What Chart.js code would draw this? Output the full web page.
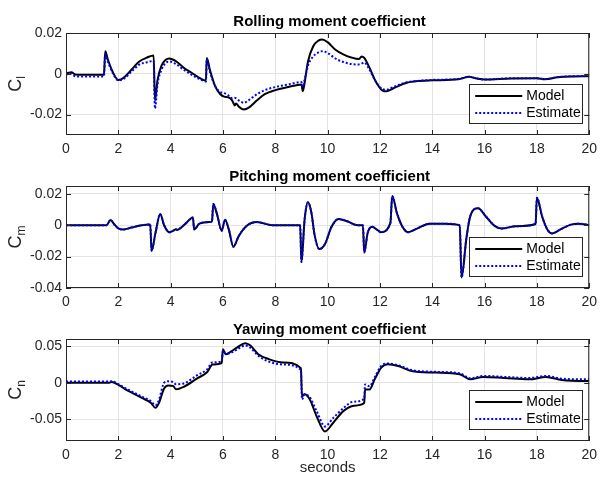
<!DOCTYPE html>
<html>
<head>
<meta charset="utf-8">
<script src="https://cdn.jsdelivr.net/npm/chart.js@4.4.1/dist/chart.umd.min.js"></script>
<style>
  html, body { margin: 0; padding: 0; background: #fff; }
  #wrap { position: relative; width: 603px; height: 479px; overflow: hidden; }
  .sub { position: absolute; left: 0; }
</style>
</head>
<body>
<div id="wrap">
  <canvas id="chartCl" class="sub" width="603" height="160" style="top:0px"></canvas>
  <canvas id="chartCm" class="sub" width="603" height="153" style="top:160px"></canvas>
  <canvas id="chartCn" class="sub" width="603" height="166" style="top:313px"></canvas>
</div>
<script>
// shared x axis (seconds)
const X_TICKS = [0, 2, 4, 6, 8, 10, 12, 14, 16, 18, 20];
const SERIES_NAMES = ["Model", "Estimate"];

// Rolling moment coefficient
const CL_TICKS = [-0.02, 0, 0.02];
const CL_T = [0, 0.1, 0.2, 0.35, 0.6, 1.0, 1.45, 1.5, 1.6, 1.8, 2.0, 2.2, 2.5, 2.8, 3.1, 3.35, 3.4, 3.5, 3.65, 3.8, 3.95, 4.2, 4.5, 4.8, 5.1, 5.35, 5.38, 5.5, 5.7, 5.9, 6.05, 6.2, 6.35, 6.45, 6.5, 6.6, 6.8, 7.0, 7.3, 7.6, 8.0, 8.5, 9.0, 9.05, 9.1, 9.25, 9.45, 9.65, 9.8, 10.0, 10.3, 10.6, 10.9, 11.2, 11.3, 11.4, 11.6, 11.85, 12.1, 12.25, 12.5, 13.0, 13.5, 14.0, 15.0, 15.4, 15.7, 16.0, 17.0, 18.0, 18.3, 18.8, 19.3, 20];
const CL_MODEL = [0, 0.0005, 0.0008, -0.0003, -0.0005, -0.0005, -0.0005, 0.011, 0.007, 0.0005, -0.003, -0.002, 0.002, 0.006, 0.008, 0.009, -0.013, -0.003, 0.004, 0.0068, 0.0075, 0.0062, 0.003, 0.0005, -0.002, -0.0033, 0.0078, 0.002, -0.006, -0.010, -0.0112, -0.0115, -0.013, -0.0155, -0.0145, -0.016, -0.0175, -0.0165, -0.013, -0.010, -0.008, -0.0065, -0.0052, -0.0085, -0.006, 0.006, 0.0135, 0.0163, 0.0168, 0.0155, 0.0118, 0.0095, 0.008, 0.0072, 0.0085, 0.0078, 0.003, -0.004, -0.0082, -0.0086, -0.0072, -0.0045, -0.0035, -0.0032, -0.0027, -0.0015, -0.0023, -0.0028, -0.0023, -0.0022, -0.0027, -0.0017, -0.0013, -0.0012];
const CL_EST = [-0.0005, 0, 0, -0.0012, -0.0013, -0.0013, -0.0013, 0.0095, 0.006, 0, -0.0032, -0.0025, 0.001, 0.0045, 0.0057, 0.0063, -0.017, -0.005, 0.002, 0.0052, 0.006, 0.0048, 0.002, -0.0005, -0.0025, -0.0038, 0.0072, 0.001, -0.006, -0.009, -0.0095, -0.0105, -0.012, -0.0118, -0.012, -0.013, -0.0142, -0.0128, -0.010, -0.008, -0.0065, -0.0052, -0.004, -0.0065, -0.004, 0.004, 0.0085, 0.0105, 0.0111, 0.0102, 0.0075, 0.0058, 0.0048, 0.0046, 0.005, 0.0055, 0.002, -0.004, -0.0075, -0.0078, -0.0066, -0.0042, -0.0034, -0.003, -0.0025, -0.0015, -0.0023, -0.0028, -0.0022, -0.0022, -0.0026, -0.0016, -0.0012, -0.0011];

// Pitching moment coefficient
const CM_TICKS = [-0.04, -0.02, 0, 0.02];
const CM_T = [0, 1.55, 1.7, 1.85, 2.0, 2.2, 2.5, 2.9, 3.22, 3.27, 3.42, 3.6, 3.75, 3.95, 4.1, 4.2, 4.25, 4.4, 4.6, 4.85, 4.9, 5.1, 5.5, 5.58, 5.63, 5.78, 5.95, 6.08, 6.22, 6.4, 6.6, 6.9, 7.3, 7.9, 8.95, 9.0, 9.12, 9.25, 9.38, 9.5, 9.68, 9.9, 10.15, 10.42, 10.75, 11.15, 11.35, 11.4, 11.53, 11.7, 11.9, 12.03, 12.4, 12.47, 12.65, 12.85, 13.07, 13.4, 13.9, 14.5, 15.05, 15.12, 15.3, 15.45, 15.75, 16.05, 16.4, 16.65, 17.2, 17.95, 18.0, 18.2, 18.4, 18.58, 18.9, 19.3, 19.6, 20];
const CM_MODEL = [0, 0, 0.0033, 0.0005, -0.002, -0.0027, -0.0015, 0, 0.0005, -0.0163, -0.005, 0.0071, 0, -0.0045, -0.0035, -0.0025, -0.003, -0.0015, 0.0015, 0.005, -0.0027, 0.001, 0.002, 0.0025, 0.0135, 0.0065, -0.0035, 0.0035, -0.0025, -0.0137, -0.007, -0.0005, 0.002, 0, 0, -0.0235, 0.0035, 0.0146, 0.008, -0.006, -0.0152, -0.012, -0.001, 0.004, 0.0025, 0, 0, -0.0173, -0.005, -0.001, -0.003, -0.0044, 0.0015, 0.0187, 0.0077, -0.0006, -0.0044, -0.0023, 0.001, 0.001, 0, -0.0333, -0.009, 0.0056, 0.0108, 0.0056, -0.0006, -0.0021, -0.0006, 0.0008, 0.0175, 0.0056, -0.0027, -0.0052, -0.0027, 0.0004, 0.001, 0];
const CM_EST = [0, 0, 0.0033, 0.0005, -0.002, -0.0027, -0.0015, 0, 0.0005, -0.0163, -0.005, 0.0071, 0, -0.0045, -0.0035, -0.0025, -0.003, -0.0015, 0.0015, 0.005, -0.0027, 0.001, 0.002, 0.0025, 0.0135, 0.0065, -0.0035, 0.0035, -0.0025, -0.0137, -0.007, -0.0005, 0.002, 0, 0, -0.0235, 0.0035, 0.0146, 0.008, -0.006, -0.0152, -0.012, -0.001, 0.004, 0.0025, 0, 0, -0.0173, -0.005, -0.001, -0.003, -0.0044, 0.0015, 0.0187, 0.0077, -0.0006, -0.0044, -0.0023, 0.001, 0.001, 0, -0.0333, -0.009, 0.0056, 0.0108, 0.0056, -0.0006, -0.0021, -0.0006, 0.0008, 0.0175, 0.0056, -0.0027, -0.0052, -0.0027, 0.0004, 0.001, 0];

// Yawing moment coefficient
const CN_TICKS = [-0.05, 0, 0.05];
const CN_T = [0, 1.0, 1.65, 1.75, 2.0, 2.4, 2.9, 3.25, 3.42, 3.55, 3.75, 3.9, 4.1, 4.2, 4.5, 5.0, 5.4, 5.6, 5.95, 6.0, 6.1, 6.3, 6.55, 6.85, 7.05, 7.35, 7.75, 8.3, 8.98, 9.02, 9.12, 9.32, 9.58, 9.9, 10.2, 10.6, 11.0, 11.4, 11.43, 11.6, 11.8, 12.05, 12.3, 12.7, 13.2, 14.1, 15.05, 15.45, 15.95, 16.75, 17.7, 18.35, 18.95, 19.9, 20];
const CN_MODEL = [0, 0, 0, 0.001, -0.003, -0.0116, -0.0208, -0.0278, -0.0345, -0.028, -0.008, -0.0037, -0.0045, -0.009, -0.0056, 0.0056, 0.0148, 0.025, 0.027, 0.046, 0.039, 0.0426, 0.0486, 0.0542, 0.051, 0.039, 0.0324, 0.0278, 0.02, -0.0185, -0.016, -0.023, -0.046, -0.067, -0.0556, -0.039, -0.0315, -0.0278, -0.0093, -0.0093, 0.0046, 0.0208, 0.0255, 0.023, 0.0162, 0.0139, 0.0116, 0.0046, 0.0079, 0.0065, 0.0046, 0.0079, 0.0037, 0.0023, 0.0023];
const CN_EST = [0.0015, 0.0015, 0.0015, 0.002, -0.002, -0.010, -0.019, -0.0255, -0.031, -0.024, 0.0, 0.002, 0.001, -0.002, -0.001, 0.01, 0.0185, 0.028, 0.029, 0.044, 0.04, 0.041, 0.046, 0.051, 0.048, 0.037, 0.029, 0.025, 0.0175, -0.023, -0.016, -0.02, -0.039, -0.060, -0.049, -0.035, -0.026, -0.022, -0.0023, -0.005, 0.0075, 0.023, 0.0265, 0.024, 0.0175, 0.015, 0.013, 0.006, 0.0093, 0.008, 0.0065, 0.0093, 0.0055, 0.0046, 0.0046];

const FONT = "'Liberation Sans', Arial, Helvetica, sans-serif";
const AXIS_COLOR = "#262626";

// draws the Matlab style box, inward ticks, title, y label and legend
const framePlugin = {
  id: "frame",
  afterDatasetsDraw(chart, args, opts) {
    const ctx = chart.ctx;
    const a = chart.chartArea;
    ctx.save();

    // box round the axes
    ctx.strokeStyle = AXIS_COLOR;
    ctx.lineWidth = 1;
    ctx.strokeRect(a.left + 0.5, a.top + 0.5, a.right - a.left - 1, a.bottom - a.top - 1);

    // tick marks pointing inward on all four sides
    ctx.beginPath();
    chart.scales.x.ticks.forEach((t) => {
      const px = Math.round(chart.scales.x.getPixelForValue(t.value)) + 0.5;
      ctx.moveTo(px, a.bottom); ctx.lineTo(px, a.bottom - 5);
      ctx.moveTo(px, a.top); ctx.lineTo(px, a.top + 5);
    });
    chart.scales.y.ticks.forEach((t) => {
      const py = Math.round(chart.scales.y.getPixelForValue(t.value)) + 0.5;
      ctx.moveTo(a.left, py); ctx.lineTo(a.left + 5, py);
      ctx.moveTo(a.right, py); ctx.lineTo(a.right - 5, py);
    });
    ctx.stroke();

    // title
    ctx.fillStyle = "#000";
    ctx.font = "bold 15px " + FONT;
    ctx.textAlign = "center";
    ctx.textBaseline = "middle";
    ctx.fillText(opts.title, (a.left + a.right) / 2 + 2, a.top - opts.titleGap);

    // y label with subscript, rotated
    ctx.save();
    ctx.translate(21, (a.top + a.bottom) / 2);
    ctx.rotate(-Math.PI / 2);
    ctx.textAlign = "left";
    ctx.textBaseline = "alphabetic";
    ctx.fillStyle = AXIS_COLOR;
    ctx.font = "18px " + FONT;
    const wC = ctx.measureText("C").width;
    ctx.font = "12px " + FONT;
    const wS = ctx.measureText(opts.sub).width;
    const x0 = -(wC + wS) / 2;
    ctx.font = "18px " + FONT;
    ctx.fillText("C", x0, 0);
    ctx.font = "12px " + FONT;
    ctx.fillText(opts.sub, x0 + wC, 4);
    ctx.restore();

    // x label (only on the last plot)
    if (opts.xLabel) {
      ctx.font = "15px " + FONT;
      ctx.fillStyle = AXIS_COLOR;
      ctx.textAlign = "center";
      ctx.textBaseline = "middle";
      ctx.fillText(opts.xLabel, (a.left + a.right) / 2, a.bottom + 27);
    }

    // legend box at bottom right
    const w = 113, h = 39;
    const lx = a.right - 7 - w;
    const ly = a.bottom - 12 - h;
    ctx.fillStyle = "#fff";
    ctx.fillRect(lx, ly, w, h);
    ctx.strokeStyle = AXIS_COLOR;
    ctx.lineWidth = 1;
    ctx.strokeRect(Math.round(lx) + 0.5, Math.round(ly) + 0.5, w, h);
    ctx.font = "14px " + FONT;
    ctx.textAlign = "left";
    ctx.textBaseline = "middle";
    chart.data.datasets.forEach((ds, i) => {
      const ry = ly + 12 + i * 17;
      ctx.beginPath();
      ctx.strokeStyle = ds.borderColor;
      ctx.lineWidth = ds.borderWidth;
      ctx.setLineDash(ds.borderDash || []);
      ctx.moveTo(lx + 6, ry);
      ctx.lineTo(lx + 53, ry);
      ctx.stroke();
      ctx.setLineDash([]);
      ctx.fillStyle = "#000";
      ctx.fillText(ds.label, lx + 57, ry);
    });

    ctx.restore();
  },
};

function toPoints(ts, ys) {
  return ts.map((t, i) => ({ x: t, y: ys[i] }));
}

function fmtTick(v) {
  return v === 0 ? "0" : String(v);
}

// builds one of the three stacked plots
function makeSubplot(id, cfg) {
  const ctx = document.getElementById(id).getContext("2d");
  return new Chart(ctx, {
    type: "line",
    data: {
      datasets: [
        {
          label: SERIES_NAMES[0],
          data: toPoints(cfg.t, cfg.model),
          borderColor: "#000000",
          borderWidth: 2,
          pointRadius: 0,
          cubicInterpolationMode: "monotone",
          order: 1,
        },
        {
          label: SERIES_NAMES[1],
          data: toPoints(cfg.t, cfg.est),
          borderColor: "#0000ff",
          borderWidth: 2,
          borderDash: [2, 2],
          pointRadius: 0,
          cubicInterpolationMode: "monotone",
          order: 0,
        },
      ],
    },
    options: {
      responsive: false,
      animation: false,
      devicePixelRatio: 1,
      layout: { padding: { top: cfg.padTop, left: 0, right: 9, bottom: 0 } },
      plugins: {
        legend: { display: false },
        tooltip: { enabled: false },
        frame: { title: cfg.title, titleGap: cfg.titleGap, sub: cfg.sub, xLabel: cfg.xLabel },
      },
      scales: {
        x: {
          type: "linear",
          min: 0,
          max: 20,
          afterBuildTicks: (s) => { s.ticks = X_TICKS.map((v) => ({ value: v })); },
          afterFit: (s) => { s.height = cfg.xHeight; },
          grid: { color: "#e3e3e3", drawTicks: false },
          border: { display: false },
          ticks: { padding: 6, color: AXIS_COLOR, font: { family: FONT, size: 14 }, maxRotation: 0, autoSkip: false },
        },
        y: {
          min: cfg.min,
          max: cfg.max,
          afterBuildTicks: (s) => { s.ticks = cfg.ticks.map((v) => ({ value: v })); },
          afterFit: (s) => { s.width = 66; },
          grid: { color: "#e3e3e3", drawTicks: false },
          border: { display: false },
          ticks: { padding: 4, color: AXIS_COLOR, font: { family: FONT, size: 14 }, callback: fmtTick },
        },
      },
    },
    plugins: [framePlugin],
  });
}

makeSubplot("chartCl", {
  t: CL_T, model: CL_MODEL, est: CL_EST, ticks: CL_TICKS,
  min: -0.03, max: 0.02, title: "Rolling moment coefficient", sub: "l",
  padTop: 33, titleGap: 11, xHeight: 25,
});

makeSubplot("chartCm", {
  t: CM_T, model: CM_MODEL, est: CM_EST, ticks: CM_TICKS,
  min: -0.04, max: 0.025, title: "Pitching moment coefficient", sub: "m",
  padTop: 26, titleGap: 9, xHeight: 25,
});

makeSubplot("chartCn", {
  t: CN_T, model: CN_MODEL, est: CN_EST, ticks: CN_TICKS,
  min: -0.08, max: 0.06, title: "Yawing moment coefficient", sub: "n",
  padTop: 26, titleGap: 9, xHeight: 38, xLabel: "seconds",
});
</script>
</body>
</html>
